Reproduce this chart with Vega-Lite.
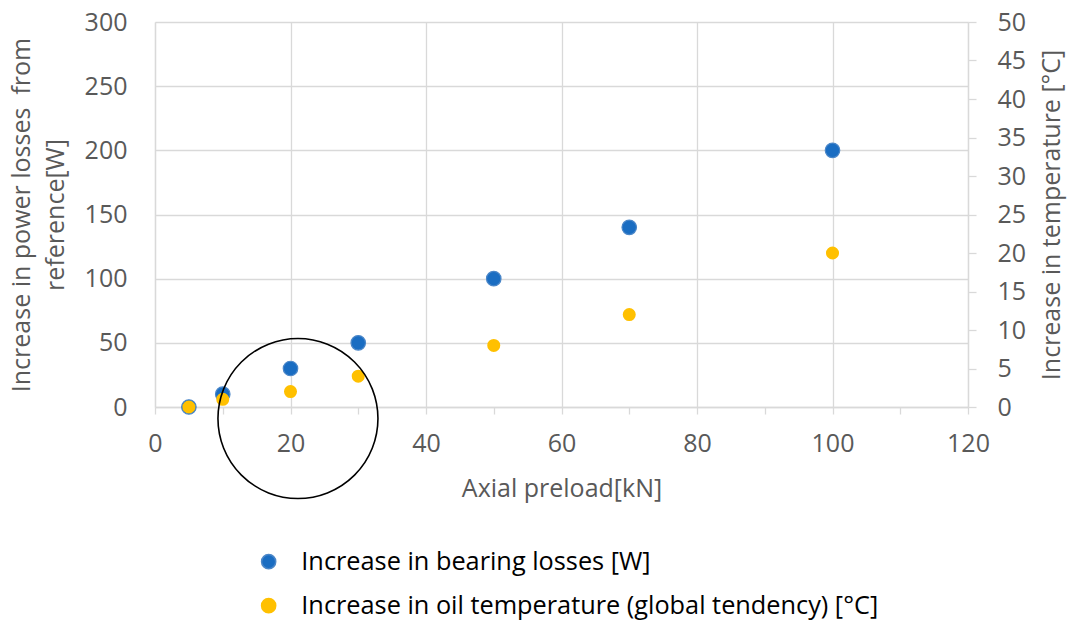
{
  "$schema": "https://vega.github.io/schema/vega-lite/v6.json",
  "autosize": "none",
  "width": 813,
  "height": 385,
  "padding": {"left": 155, "top": 22, "right": 102, "bottom": 214},
  "background": "white",
  "config": {
    "font": "Open Sans",
    "view": {"stroke": null},
    "axis": {
      "labelFont": "Open Sans",
      "titleFont": "Open Sans",
      "labelFontSize": 25,
      "titleFontSize": 25,
      "labelColor": "#595959",
      "titleColor": "#595959",
      "titleFontWeight": "normal",
      "domainColor": "#d9d9d9",
      "tickColor": "#d9d9d9",
      "gridColor": "#d9d9d9",
      "domainWidth": 1.3,
      "tickWidth": 1.3,
      "gridWidth": 1.3
    },
    "legend": {
      "labelFont": "Open Sans",
      "labelFontSize": 25.3,
      "labelColor": "#000000",
      "labelLimit": 0
    }
  },
  "datasets": {
    "measurements": [
      {"preload": 5, "value": 0, "series": "Increase in bearing losses [W]"},
      {"preload": 10, "value": 10, "series": "Increase in bearing losses [W]"},
      {"preload": 20, "value": 30, "series": "Increase in bearing losses [W]"},
      {"preload": 30, "value": 50, "series": "Increase in bearing losses [W]"},
      {"preload": 50, "value": 100, "series": "Increase in bearing losses [W]"},
      {"preload": 70, "value": 140, "series": "Increase in bearing losses [W]"},
      {"preload": 100, "value": 200, "series": "Increase in bearing losses [W]"},
      {"preload": 5, "value": 0, "series": "Increase in oil temperature (global tendency) [°C]"},
      {"preload": 10, "value": 1, "series": "Increase in oil temperature (global tendency) [°C]"},
      {"preload": 20, "value": 2, "series": "Increase in oil temperature (global tendency) [°C]"},
      {"preload": 30, "value": 4, "series": "Increase in oil temperature (global tendency) [°C]"},
      {"preload": 50, "value": 8, "series": "Increase in oil temperature (global tendency) [°C]"},
      {"preload": 70, "value": 12, "series": "Increase in oil temperature (global tendency) [°C]"},
      {"preload": 100, "value": 20, "series": "Increase in oil temperature (global tendency) [°C]"}
    ],
    "highlight": [
      {"preload": 21.1, "value": -9}
    ]
  },
  "layer": [
    {
      "data": {"name": "measurements"},
      "transform": [{"filter": "datum.series === 'Increase in bearing losses [W]'"}],
      "mark": {"type": "point", "filled": true, "opacity": 1, "size": 210, "strokeWidth": 1.2},
      "encoding": {
        "x": {
          "field": "preload", "type": "quantitative",
          "scale": {"domain": [0, 120], "nice": false, "zero": true},
          "axis": {
            "title": "Axial preload[kN]",
            "values": [0, 10, 20, 30, 40, 50, 60, 70, 80, 90, 100, 110, 120],
            "labelExpr": "datum.value % 20 === 0 ? datum.label : ''",
            "gridOpacity": {"condition": {"test": "datum.value % 20 !== 0", "value": 0}, "value": 1},
            "tickSize": 7,
            "labelPadding": 17,
            "titlePadding": 20,
            "labelFlush": false,
            "labelOverlap": false
          }
        },
        "y": {
          "field": "value", "type": "quantitative",
          "scale": {"domain": [0, 300], "nice": false},
          "axis": {
            "title": ["Increase in power losses\u00a0 from", "reference[W]"],
            "values": [0, 50, 100, 150, 200, 250, 300],
            "ticks": false,
            "labelPadding": 28,
            "titlePadding": 16,
            "titleLineHeight": 34,
            "labelFlush": false
          }
        },
        "color": {
          "field": "series", "type": "nominal",
          "scale": {
            "domain": ["Increase in bearing losses [W]", "Increase in oil temperature (global tendency) [°C]"],
            "range": ["#1a6dc2", "#ffc000"]
          },
          "legend": {
            "title": null,
            "orient": "none",
            "legendX": 101,
            "legendY": 527,
            "padding": 0,
            "symbolSize": 200,
            "symbolType": "circle",
            "labelOffset": 20,
            "rowPadding": 18
          }
        },
        "stroke": {
          "field": "series", "type": "nominal",
          "scale": {
            "domain": ["Increase in bearing losses [W]", "Increase in oil temperature (global tendency) [°C]"],
            "range": ["#4a86c8", "#ffc000"]
          },
          "legend": null
        }
      }
    },
    {
      "data": {"name": "measurements"},
      "transform": [{"filter": "datum.series !== 'Increase in bearing losses [W]'"}],
      "mark": {"type": "point", "filled": true, "opacity": 1, "size": 170, "strokeWidth": 0},
      "encoding": {
        "x": {"field": "preload", "type": "quantitative"},
        "y": {
          "field": "value", "type": "quantitative",
          "scale": {"domain": [0, 50], "nice": false},
          "axis": {
            "orient": "right",
            "title": "Increase in temperature [°C]",
            "titleAngle": 270,
            "titleBaseline": "top",
            "values": [0, 5, 10, 15, 20, 25, 30, 35, 40, 45, 50],
            "grid": false,
            "tickSize": 8,
            "labelPadding": 21,
            "titlePadding": 14,
            "labelFlush": false
          }
        },
        "color": {"field": "series", "type": "nominal"}
      }
    },
    {
      "data": {"name": "highlight"},
      "mark": {"type": "point", "filled": false, "size": 25600, "stroke": "#000000", "strokeWidth": 1.6, "opacity": 1, "clip": false},
      "encoding": {
        "x": {"field": "preload", "type": "quantitative"},
        "y": {
          "field": "value", "type": "quantitative",
          "scale": {"domain": [0, 300], "nice": false},
          "axis": null
        }
      }
    }
  ],
  "resolve": {"scale": {"y": "independent"}}
}
